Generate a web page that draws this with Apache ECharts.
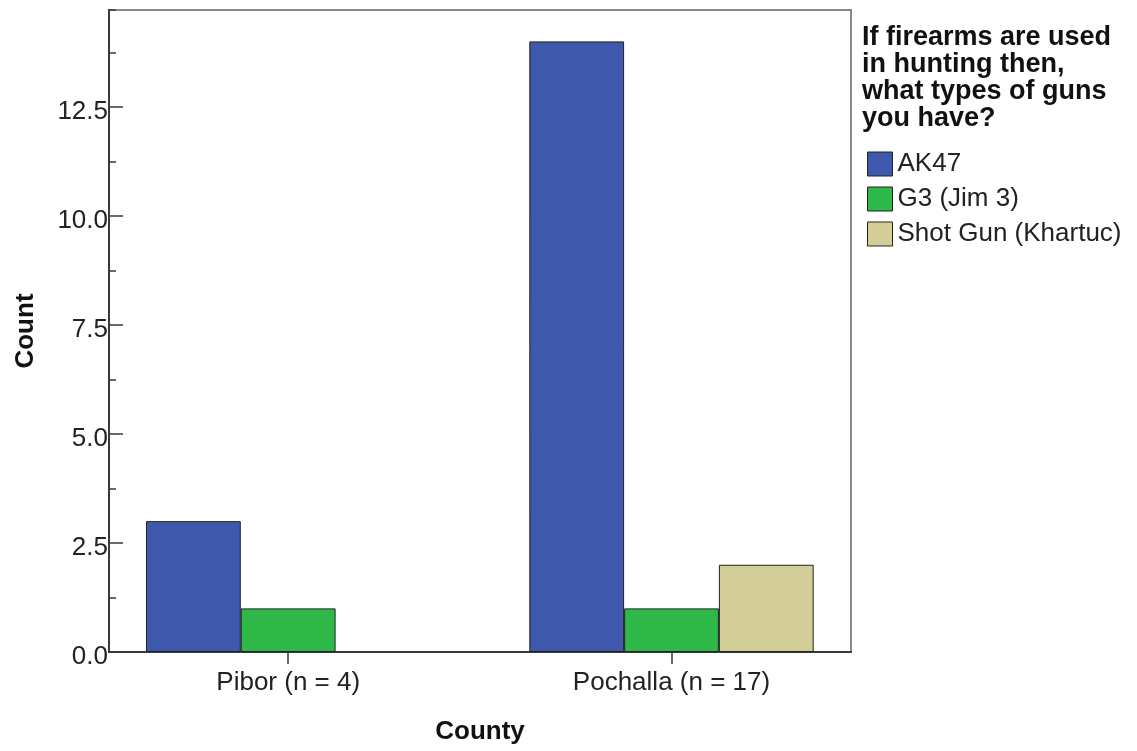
<!DOCTYPE html>
<html>
<head>
<meta charset="utf-8">
<script src="https://cdn.jsdelivr.net/npm/echarts@6/dist/echarts.min.js"></script>
<style>
html,body{margin:0;padding:0;background:#fff;}
#chart{width:1137px;height:751px;}
</style>
</head>
<body>
<div id="chart"></div>
<script>
const categories = ['Pibor (n = 4)', 'Pochalla (n = 17)'];
const seriesNames = ['AK47', 'G3 (Jim 3)', 'Shot Gun (Khartuc)'];
const ak47 = [3, 14];
const g3 = [1, 1];
const shotGun = [null, 2];
const seriesColors = ['#3E58AC', '#2EB848', '#D3CE97'];
const legendTitle = 'If firearms are used\nin hunting then,\nwhat types of guns\nyou have?';
const xTitle = 'County';
const yTitle = 'Count';

const FONT = '"Liberation Sans", Arial, sans-serif';
const yMax = 14.72;

function toData(arr) {
  return arr.map((v, i) => (v === null ? [i, '-'] : [i, v]));
}
const allValues = [ak47, g3, shotGun];

const chart = echarts.init(document.getElementById('chart'), null, {renderer: 'canvas'});
chart.setOption({
  backgroundColor: '#ffffff',
  animation: false,
  textStyle: {fontFamily: FONT},
  title: {
    text: legendTitle,
    left: 862,
    top: 24,
    padding: 0,
    textStyle: {fontFamily: FONT, fontSize: 27, fontWeight: 'bold', color: '#111', lineHeight: 27}
  },
  legend: {
    orient: 'vertical',
    left: 867,
    top: 151,
    padding: 0,
    itemWidth: 25,
    itemHeight: 24,
    itemGap: 9,
    icon: 'rect',
    data: seriesNames,
    itemStyle: {borderColor: '#222', borderWidth: 1},
    textStyle: {fontFamily: FONT, fontSize: 26, color: '#222', lineHeight: 24}
  },
  grid: {
    left: 109, right: 286, top: 10, bottom: 99,
    show: true, borderColor: '#888', borderWidth: 2, backgroundColor: 'transparent'
  },
  xAxis: {
    type: 'value',
    min: -0.4675,
    max: 1.4683,
    name: xTitle,
    nameLocation: 'middle',
    nameGap: 67,
    nameTextStyle: {fontFamily: FONT, fontSize: 26, fontWeight: 'bold', color: '#111'},
    splitLine: {show: false},
    axisLine: {show: true, onZero: false, lineStyle: {color: '#3a3a3a', width: 2}},
    axisTick: {show: true, inside: false, length: 12, customValues: [0, 1], lineStyle: {color: '#3a3a3a', width: 1.5}},
    axisLabel: {
      show: true, margin: 18, customValues: [0, 1],
      fontFamily: FONT, fontSize: 26, color: '#222',
      formatter: v => categories[Math.round(v)] || ''
    }
  },
  yAxis: [{
    type: 'value',
    min: 0,
    max: yMax,
    interval: 2.5,
    position: 'left',
    name: yTitle,
    nameLocation: 'middle',
    nameGap: 70,
    nameRotate: 90,
    nameTextStyle: {fontFamily: FONT, fontSize: 26, fontWeight: 'bold', color: '#111'},
    splitLine: {show: false},
    axisLine: {show: true, onZero: false, lineStyle: {color: '#3a3a3a', width: 2}},
    axisTick: {show: true, inside: true, length: 14, lineStyle: {color: '#3a3a3a', width: 1.5}},
    axisLabel: {
      margin: 1, fontFamily: FONT, fontSize: 26, color: '#222',
      showMaxLabel: false,
      formatter: v => (Math.abs(v / 2.5 - Math.round(v / 2.5)) < 1e-6 ? '{v|' + v.toFixed(1) + '}' : ''),
      rich: {v: {fontFamily: FONT, fontSize: 26, color: '#222', padding: [10, 0, 0, 0]}}
    }
  }, {
    type: 'value',
    min: 0,
    max: yMax,
    interval: 1.25,
    position: 'left',
    offset: 0,
    splitLine: {show: false},
    axisLine: {show: false, onZero: false},
    axisTick: {show: true, inside: true, length: 7, lineStyle: {color: '#3a3a3a', width: 1.5}},
    axisLabel: {show: false}
  }],
  series: seriesNames.map((name, k) => ({
    name: name,
    type: 'bar',
    xAxisIndex: 0,
    yAxisIndex: 0,
    barWidth: 94.8,
    barGap: '0%',
    data: toData(allValues[k]),
    itemStyle: {color: seriesColors[k], borderColor: '#222', borderWidth: 1}
  }))
});
</script>
</body>
</html>
